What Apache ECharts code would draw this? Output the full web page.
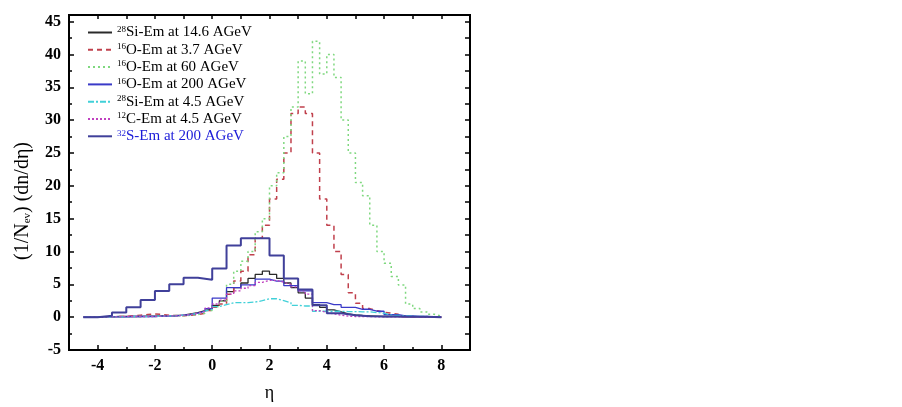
<!DOCTYPE html>
<html>
<head>
<meta charset="utf-8">
<script src="https://cdn.jsdelivr.net/npm/echarts@6/dist/echarts.min.js"></script>
<style>
  html, body { margin: 0; padding: 0; background: #fff; }
  #chart { width: 902px; height: 407px; }
</style>
</head>
<body>
<div id="chart"></div>
<script>
// histogram bins: left edges start at -4.5, width 0.25 (tall one uses 0.5)
const binStart = -4.5;
const binEnd = 8;

// ²⁸Si-Em at 14.6 AGeV
const si146 = [0, 0, 0.05, 0.05, 0.1, 0.1, 0.1, 0.1, 0.15, 0.15,
  0.2, 0.2, 0.25, 0.3, 0.5, 0.7, 1.0, 1.3,
  1.8, 2.5, 3.9, 4.5, 5.2, 5.9, 6.5, 7.0, 6.5, 5.9, 5.2, 4.5,
  3.7, 2.9, 1.9, 1.5, 1.1, 0.8, 0.5, 0.35, 0.25, 0.2,
  0.15, 0.1, 0.1, 0.1, 0.05, 0.05, 0.05, 0, 0, 0];
// ¹⁶O-Em at 3.7 AGeV
const o37 = [0, 0, 0, 0.05, 0.1, 0.1, 0.2, 0.3, 0.4, 0.5,
  0.4, 0.3, 0.2, 0.2, 0.3, 0.4, 0.6, 1.0,
  1.5, 2.0, 3.5, 5.5, 7.0, 9.5, 12, 14, 18, 21, 25, 31,
  32, 31, 25, 18, 14, 10, 6.5, 3.7, 2.1, 1.3,
  1.0, 0.75, 0.6, 0.45, 0.1, 0.05, 0, 0, 0, 0];
// ¹⁶O-Em at 60 AGeV
const o60 = [0, 0, 0, 0, 0.05, 0.05, 0.1, 0.1, 0.1, 0.1,
  0.15, 0.15, 0.2, 0.2, 0.3, 0.4, 0.6, 1.0,
  1.6, 2.5, 5.0, 7.0, 8.5, 10, 13, 15, 20, 22, 27.5, 32,
  39, 34, 42, 37, 40, 36.5, 30, 25, 20.5, 18.5,
  14, 10, 8.2, 6.2, 4.9, 2.0, 1.3, 0.8, 0.45, 0.15];
// ¹⁶O-Em at 200 AGeV
const o200 = [0, 0, 0.05, 0.05, 0.05, 0.05, 0.1, 0.1, 0.1, 0.1,
  0.15, 0.15, 0.2, 0.3, 0.4, 0.6, 0.9, 1.3,
  2.9, 2.9, 4.5, 4.5, 4.9, 4.9, 5.8, 5.8, 5.5, 5.5, 4.8, 4.8,
  4.0, 4.0, 2.2, 2.2, 1.9, 1.9, 1.5, 1.5, 1.2, 1.2,
  0.9, 0.9, 0.4, 0.4, 0.2, 0.2, 0.1, 0.1, 0.05, 0.05];
// ²⁸Si-Em at 4.5 AGeV
const si45 = [0, 0, 0, 0.05, 0.05, 0.05, 0.1, 0.1, 0.1, 0.1,
  0.15, 0.2, 0.2, 0.3, 0.4, 0.6, 0.9, 1.2,
  1.6, 1.9, 2.2, 2.2, 2.2, 2.3, 2.5, 2.8, 2.8, 2.5, 2.2, 1.8,
  1.7, 1.7, 0.9, 0.9, 0.9, 0.9, 0.85, 0.85, 0.8, 0.8,
  0.7, 0.6, 0.3, 0.25, 0.2, 0.15, 0.1, 0.1, 0.05, 0.05];
// ¹²C-Em at 4.5 AGeV
const c45 = [0, 0, 0.05, 0.05, 0.05, 0.1, 0.1, 0.1, 0.1, 0.1,
  0.15, 0.2, 0.2, 0.3, 0.4, 0.6, 0.9, 1.4,
  2.0, 2.6, 3.5, 4.0, 4.4, 4.8, 5.3, 5.6, 5.6, 5.3, 5.0, 4.6,
  4.0, 3.5, 1.0, 0.7, 0.5, 0.3, 0.15, 0.1, 0.1, 0.1,
  0.05, 0.05, 0.05, 0.05, 0, 0, 0, 0, 0, 0];
// ³²S-Em at 200 AGeV (0.5 bins)
const s200 = [0, 0.2, 0.7, 1.5, 2.6, 4.0, 5.0, 6.0, 5.7, 7.4,
  10.9, 12.0, 12.0, 9.4, 5.9, 4.2, 1.8, 0.6, 0.3, 0.15,
  0.1, 0.1, 0.05, 0.05, 0];

const names = [
  '28|Si-Em at 14.6 AGeV', '16|O-Em at 3.7 AGeV', '16|O-Em at 60 AGeV',
  '16|O-Em at 200 AGeV', '28|Si-Em at 4.5 AGeV', '12|C-Em at 4.5 AGeV',
  '32|S-Em at 200 AGeV'
];

const xLabels = [-4, -2, 0, 2, 4, 6, 8];
const xMinor = [-3, -1, 1, 3, 5, 7];
const yLabels = [-5, 0, 5, 10, 15, 20, 25, 30, 35, 40, 45];
const yMinor = [-2.5, 2.5, 7.5, 12.5, 17.5, 22.5, 27.5, 32.5, 37.5, 42.5];

function steps(vals, width) {
  const pts = vals.map((v, i) => [binStart + i * width, v]);
  pts.push([binEnd, vals[vals.length - 1]]);
  return pts;
}

function line(name, vals, width, color, type, w) {
  return {
    name: name,
    type: 'line',
    step: 'end',
    symbol: 'none',
    data: steps(vals, width),
    lineStyle: { color: color, type: type, width: w },
    itemStyle: { color: color },
    emphasis: { disabled: true },
    animation: false
  };
}

const serif = '"Liberation Serif", "DejaVu Serif", serif';
const tickStyle = { color: '#000', width: 1.5 };

function extraAxis(pos, min, max, vals, len) {
  return {
    type: 'value', min: min, max: max, position: pos,
    axisLine: { show: false, onZero: false },
    axisTick: { inside: true, length: len, lineStyle: tickStyle, customValues: vals },
    axisLabel: { show: false },
    splitLine: { show: false }
  };
}

const chart = echarts.init(document.getElementById('chart'));
const option = {
  animation: false,
  grid: { left: 69, right: 432, top: 15, bottom: 55, show: true, borderColor: '#000', borderWidth: 2 },
  legend: {
    orient: 'vertical',
    left: 82,
    top: 20,
    itemWidth: 24,
    itemHeight: 10,
    itemGap: 1.3,
    itemStyle: { opacity: 0 },
    textStyle: {
      fontFamily: serif, fontSize: 15, color: '#000', lineHeight: 15,
      rich: {
        sup: { fontFamily: serif, fontSize: 9, lineHeight: 15, verticalAlign: 'top', padding: [0, 0, 7, 0] },
        t: { fontFamily: serif, fontSize: 15, lineHeight: 15 }
      }
    },
    formatter: function (n) {
      const p = n.split('|');
      return '{sup|' + p[0] + '}{t|' + p[1] + '}';
    },
    data: names.map((n, i) => i === 6
      ? { name: n, textStyle: { color: '#1a1ad8' } }
      : { name: n })
  },
  graphic: [{
    type: 'text',
    x: 23, y: 201,
    rotation: Math.PI / 2,
    style: {
      text: '(1/N{sub|ev}) (dn/dη)',
      fontFamily: serif, fontSize: 20, fill: '#000',
      align: 'center', verticalAlign: 'middle',
      rich: { sub: { fontFamily: serif, fontSize: 11, verticalAlign: 'bottom', padding: [8, 0, 0, 0] } }
    }
  }],
  xAxis: [{
    type: 'value', min: -5, max: 9,
    name: 'η', nameLocation: 'middle', nameGap: 34,
    nameTextStyle: { fontFamily: serif, fontSize: 18, color: '#000' },
    axisLine: { onZero: false, lineStyle: { color: '#000', width: 2 } },
    axisTick: { inside: true, length: 5, lineStyle: tickStyle, customValues: xLabels },
    axisLabel: { fontFamily: serif, fontWeight: 'bold', fontSize: 16, color: '#000', margin: 8, customValues: xLabels },
    splitLine: { show: false }
  },
  extraAxis('bottom', -5, 9, xMinor, 3),
  extraAxis('top', -5, 9, xLabels.concat(xMinor), 4)],
  yAxis: [{
    type: 'value', min: -5, max: 46,
    axisLine: { onZero: false, lineStyle: { color: '#000', width: 2 } },
    axisTick: { inside: true, length: 5, lineStyle: tickStyle, customValues: yLabels },
    axisLabel: { fontFamily: serif, fontWeight: 'bold', fontSize: 16, color: '#000', margin: 8, customValues: yLabels },
    splitLine: { show: false }
  },
  extraAxis('left', -5, 46, yMinor, 3),
  extraAxis('right', -5, 46, yLabels.concat(yMinor), 5)],
  series: [
    line(names[0], si146, 0.25, '#2a2a2a', 'solid', 1.3),
    line(names[1], o37, 0.25, '#c0404c', [5, 4], 1.5),
    line(names[2], o60, 0.25, '#7fd87f', [2, 3], 1.5),
    line(names[3], o200, 0.25, '#3a3ac8', 'solid', 1.3),
    line(names[4], si45, 0.25, '#40d0d8', [6, 2, 2, 2], 1.3),
    line(names[5], c45, 0.25, '#c040c0', [2, 2], 1.3),
    line(names[6], s200, 0.5, '#40409a', 'solid', 2)
  ]
};
chart.setOption(option);
</script>
</body>
</html>
